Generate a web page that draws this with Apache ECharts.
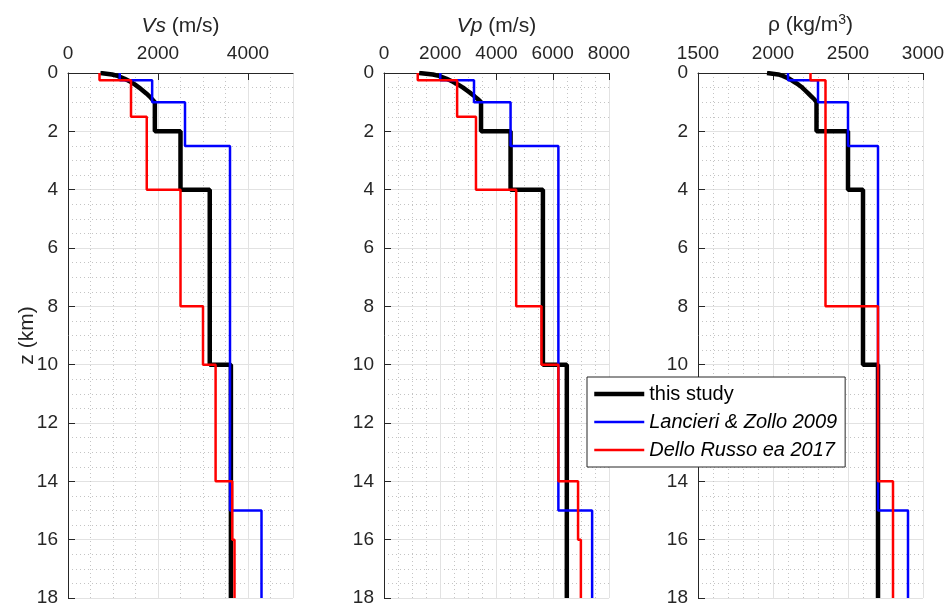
<!DOCTYPE html>
<html>
<head>
<meta charset="utf-8">
<script src="https://cdn.jsdelivr.net/npm/echarts@6/dist/echarts.min.js"></script>
<style>
  html, body { margin: 0; padding: 0; background: #fff; }
  #main { width: 948px; height: 608px; }
</style>
</head>
<body>
<div id="main"></div>
<script>
// near-surface gradient of "this study" (0-1 km)
const curveDepth = [0, 0.05, 0.1, 0.2, 0.3, 0.4, 0.5, 0.6, 0.7, 0.8, 0.9, 1];
const vsCurve  = [720, 980, 1100, 1260, 1390, 1490, 1580, 1660, 1740, 1810, 1870, 1930];
const vpCurve  = [1250, 1740, 1950, 2230, 2450, 2640, 2810, 2950, 3090, 3220, 3340, 3450];
const rhoCurve = [1960, 2035, 2065, 2110, 2140, 2170, 2195, 2215, 2235, 2255, 2275, 2290];

// layered part of "this study" below 1 km
const studyDepth = [1, 2, 4, 10, 18];
const vsStudy  = [1930, 2500, 3150, 3620];
const vpStudy  = [3450, 4500, 5650, 6500];
const rhoStudy = [2290, 2500, 2600, 2700];

// Lancieri & Zollo 2009
const lzDepth = [0, 0.25, 1, 2.5, 15, 18];
const vsLZ  = [1150, 1870, 2600, 3600, 4300];
const vpLZ  = [2000, 3200, 4500, 6200, 7400];
const rhoLZ = [2100, 2300, 2500, 2700, 2900];

// Dello Russo et al. 2017
const drDepth = [0, 0.25, 1.5, 4, 8, 10, 14, 16, 18];
const vsDR  = [700, 1400, 1750, 2500, 3000, 3280, 3650, 3700];
const vpDR  = [1200, 2600, 3270, 4700, 5600, 6200, 6900, 7000];
const rhoDR = [2250, 2350, 2350, 2350, 2700, 2700, 2800, 2800];

const names = ['this study', 'Lancieri & Zollo 2009', 'Dello Russo ea 2017'];
const colors = ['#000000', '#0000ff', '#ff0000'];
const widths = [4.5, 2.5, 2.5];
const txt = '#262626';
const font = 'Liberation Sans, Arial, Helvetica, sans-serif';

const steps = (depths, vals) => {
  let pts = [];
  vals.forEach((v, i) => {
    pts.push([v, depths[i]]);
    pts.push([v, depths[i + 1]]);
  });
  return pts;
};
const study = (curve, vals) => {
  let pts = curveDepth.map((z, i) => [curve[i], z]);
  return pts.concat(steps(studyDepth, vals));
};

// panel geometry
const panels = [
  {left: 68, min: 0, max: 5000, major: 2000, minor: 500, name: '{i|Vs} (m/s)',
   data: [study(vsCurve, vsStudy), steps(lzDepth, vsLZ), steps(drDepth, vsDR)]},
  {left: 384, min: 0, max: 8000, major: 2000, minor: 500, name: '{i|Vp} (m/s)',
   data: [study(vpCurve, vpStudy), steps(lzDepth, vpLZ), steps(drDepth, vpDR)]},
  {left: 698, min: 1500, max: 3000, major: 500, minor: 100, name: 'ρ (kg/m{s|3})',
   data: [study(rhoCurve, rhoStudy), steps(lzDepth, rhoLZ), steps(drDepth, rhoDR)]},
];

let grid = [], xAxis = [], yAxis = [], series = [];
panels.forEach((p, k) => {
  grid.push({left: p.left, top: 73, width: 225, height: 525});
  // minor (dotted) grid axes
  xAxis.push({gridIndex: k, type: 'value', position: 'top', min: p.min, max: p.max, interval: p.minor,
    axisLine: {show: false}, axisTick: {show: false}, axisLabel: {show: false},
    splitLine: {show: true, lineStyle: {color: '#c4c4c4', type: [1, 3], width: 1}}});
  yAxis.push({gridIndex: k, type: 'value', position: 'left', inverse: true, min: 0, max: 18, interval: 0.5,
    axisLine: {show: false}, axisTick: {show: false}, axisLabel: {show: false},
    splitLine: {show: true, lineStyle: {color: '#c4c4c4', type: [1, 3], width: 1}}});
  // major axes
  xAxis.push({gridIndex: k, type: 'value', position: 'top', min: p.min, max: p.max, interval: p.major,
    name: p.name, nameLocation: 'middle', nameGap: 36,
    nameTextStyle: {fontSize: 21, color: txt, fontFamily: font,
      rich: {i: {fontStyle: 'italic', fontSize: 21, color: txt, fontFamily: font},
             s: {fontSize: 14, color: txt, fontFamily: font, verticalAlign: 'top', padding: [0, 0, 10, 0]}}},
    axisLine: {show: true, lineStyle: {color: txt, width: 1}},
    axisTick: {show: true, inside: true, length: 7, lineStyle: {color: txt}},
    axisLabel: {fontSize: 19, color: txt, fontFamily: font, margin: 10,
      showMaxLabel: p.max % p.major === 0, formatter: v => String(v)},
    splitLine: {show: true, lineStyle: {color: '#e2e2e2', width: 1}}});
  yAxis.push({gridIndex: k, type: 'value', position: 'left', inverse: true, min: 0, max: 18, interval: 2,
    name: k === 0 ? 'z (km)' : '', nameLocation: 'middle', nameGap: 30, nameMoveOverlap: false,
    nameTextStyle: {fontSize: 21, color: txt, fontFamily: font},
    axisLine: {show: true, lineStyle: {color: txt, width: 1}},
    axisTick: {show: true, inside: true, length: 7, lineStyle: {color: txt}},
    axisLabel: {fontSize: 19, color: txt, fontFamily: font, margin: 10},
    splitLine: {show: true, lineStyle: {color: '#e2e2e2', width: 1}}});
  p.data.forEach((d, j) => {
    series.push({
      name: names[j], type: 'line', xAxisIndex: 2 * k + 1, yAxisIndex: 2 * k + 1,
      data: d, showSymbol: false, symbol: 'none', smooth: false,
      lineStyle: {color: colors[j], width: widths[j]}, itemStyle: {color: colors[j]},
      z: 3 + j
    });
  });
});

const chart = echarts.init(document.getElementById('main'));
chart.setOption({
  backgroundColor: '#ffffff',
  animation: false,
  grid: grid,
  xAxis: xAxis,
  yAxis: yAxis,
  legend: {
    data: names.map((n, j) => ({name: n, lineStyle: {color: colors[j], width: widths[j]}})),
    orient: 'vertical',
    left: 587, top: 377,
    padding: [7, 8, 7, 5],
    itemGap: 8,
    itemWidth: 50, itemHeight: 20,
    backgroundColor: '#ffffff',
    borderColor: '#262626', borderWidth: 1, borderRadius: 0,
    z: 10,
    itemStyle: {color: 'transparent', borderColor: 'transparent', borderWidth: 0},
    formatter: n => n === 'this study' ? n : '{i|' + n + '}',
    textStyle: {fontSize: 20, color: '#000', fontFamily: font,
      rich: {i: {fontStyle: 'italic', fontSize: 20, color: '#000', fontFamily: font}}}
  },
  series: series
});
</script>
</body>
</html>
